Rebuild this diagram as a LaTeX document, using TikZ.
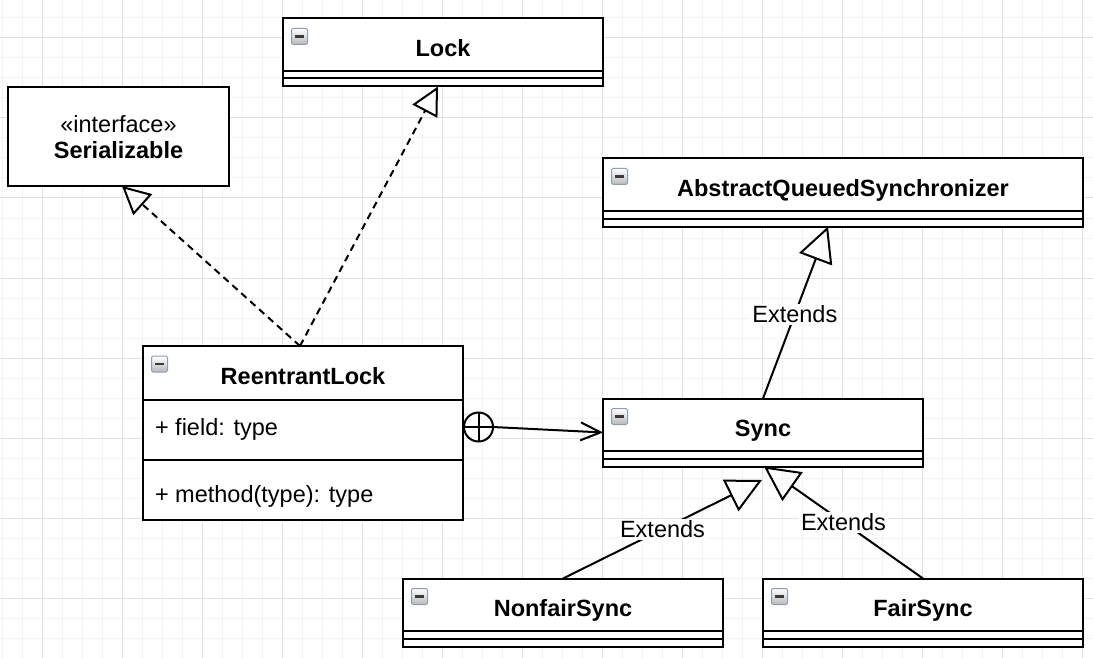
\documentclass[tikz,border=0pt]{standalone}
\usepackage{fontspec}
\setmainfont{Liberation Sans}
\usetikzlibrary{arrows.meta}
\definecolor{gridminor}{HTML}{F3F3F3}
\definecolor{gridmajor}{HTML}{E0E0E0}
\definecolor{iconborder}{HTML}{8C9DB5}
\definecolor{icondark}{HTML}{3A3A3A}
\begin{document}
\begin{tikzpicture}[x=1pt,y=-1pt,
  every node/.style={font=\fontsize{23.5}{28}\selectfont, inner sep=0pt, outer sep=0pt},
  cls/.style={draw=black, line width=2pt, fill=white, rectangle, anchor=north west, minimum height=68pt},
  title/.style={anchor=base, font=\fontsize{23.5}{28}\selectfont\bfseries},
  member/.style={anchor=base west},
  sepline/.style={line width=2pt},
  dep/.style={line width=2pt, dash pattern=on 7pt off 5pt, -{Triangle[open,length=28pt,width=28pt]}},
  ext/.style={line width=2pt, -{Triangle[open,length=35pt,width=35pt]}},
  lbl/.style={fill=white, inner sep=2pt},
  umlicon/.pic={
    \shade[top color=white, bottom color=black!28, draw=iconborder, line width=1pt, rounded corners=1.5pt] (0,0) rectangle (16,16);
    \draw[icondark, line width=2.5pt] (3.5,8) -- (12.5,8);
  }
]
\useasboundingbox (0,0) rectangle (1093,658);
% grid
\foreach \gx in {2,22,...,1092} \draw[gridminor, line width=1pt] (\gx,0) -- (\gx,658);
\foreach \gy in {18,38,...,658} \draw[gridminor, line width=1pt] (0,\gy) -- (1093,\gy);
\foreach \gx in {42,122,...,1082} \draw[gridmajor, line width=1pt] (\gx,0) -- (\gx,658);
\foreach \gy in {38,118,...,638} \draw[gridmajor, line width=1pt] (0,\gy) -- (1093,\gy);

% Lock
\node[cls, minimum width=320pt] (Lock) at (283,18.5) {};
\draw[sepline] ([yshift=-52.5pt]Lock.north west) -- ([yshift=-52.5pt]Lock.north east);
\draw[sepline] ([yshift=-60pt]Lock.north west) -- ([yshift=-60pt]Lock.north east);
\node[title] (LockT) at ([yshift=-38pt]Lock.north) {Lock};
\pic at ([shift={(8.5pt,-10pt)}]Lock.north west) {umlicon};

% Serializable
\node[cls, minimum width=221pt, minimum height=99pt] (Ser) at (8,87) {};
\node[anchor=base] (SerS) at ([yshift=-46pt]Ser.north) {«interface»};
\node[title] (SerT) at ([yshift=-72pt]Ser.north) {Serializable};

% AQS
\node[cls, minimum width=480pt] (AQS) at (603,158.5) {};
\draw[sepline] ([yshift=-52pt]AQS.north west) -- ([yshift=-52pt]AQS.north east);
\draw[sepline] ([yshift=-60pt]AQS.north west) -- ([yshift=-60pt]AQS.north east);
\node[title] (AQST) at ([yshift=-38pt]AQS.north) {AbstractQueuedSynchronizer};
\pic at ([shift={(8.5pt,-10pt)}]AQS.north west) {umlicon};

% ReentrantLock
\node[cls, minimum width=320pt, minimum height=174pt] (RL) at (143,346) {};
\draw[sepline] ([yshift=-54pt]RL.north west) -- ([yshift=-54pt]RL.north east);
\draw[sepline] ([yshift=-114pt]RL.north west) -- ([yshift=-114pt]RL.north east);
\node[title] (RLT) at ([yshift=-38pt]RL.north) {ReentrantLock};
\pic at ([shift={(8.5pt,-10pt)}]RL.north west) {umlicon};
\node[member] (RLF) at (155,435) {+ field: type};
\node[member] (RLM) at (155,502) {+ method(type): type};

% Sync
\node[cls, minimum width=320pt] (Sync) at (603,398.5) {};
\draw[sepline] ([yshift=-52pt]Sync.north west) -- ([yshift=-52pt]Sync.north east);
\draw[sepline] ([yshift=-60pt]Sync.north west) -- ([yshift=-60pt]Sync.north east);
\node[title] (SyncT) at ([yshift=-38pt]Sync.north) {Sync};
\pic at ([shift={(8.5pt,-10pt)}]Sync.north west) {umlicon};

% NonfairSync
\node[cls, minimum width=320pt] (Nonfair) at (403,578.5) {};
\draw[sepline] ([yshift=-52pt]Nonfair.north west) -- ([yshift=-52pt]Nonfair.north east);
\draw[sepline] ([yshift=-60pt]Nonfair.north west) -- ([yshift=-60pt]Nonfair.north east);
\node[title] (NonfairT) at ([yshift=-38pt]Nonfair.north) {NonfairSync};
\pic at ([shift={(8.5pt,-10pt)}]Nonfair.north west) {umlicon};

% FairSync
\node[cls, minimum width=320pt] (Fair) at (763,578.5) {};
\draw[sepline] ([yshift=-52pt]Fair.north west) -- ([yshift=-52pt]Fair.north east);
\draw[sepline] ([yshift=-60pt]Fair.north west) -- ([yshift=-60pt]Fair.north east);
\node[title] (FairT) at ([yshift=-38pt]Fair.north) {FairSync};
\pic at ([shift={(8.5pt,-10pt)}]Fair.north west) {umlicon};

% realizations
\draw[dep] ([xshift=-3pt]RL.north) -- ([xshift=114pt]Ser.south west);
\draw[dep] ([xshift=-3pt]RL.north) -- ([xshift=155pt]Lock.south west);

% generalizations
\draw[ext] (Sync.north) -- node[lbl, pos=0.49] (L1) {Extends} ([xshift=225pt]AQS.south west);
\coordinate (nfEnd) at (762,480);
\draw[ext] (Nonfair.north) -- node[lbl] (L2) {Extends} (nfEnd);
\draw[ext] (Fair.north) -- node[lbl, pos=0.5] (L3) {Extends} ([xshift=1pt]Sync.south);

% nesting
\node[circle, draw=black, line width=2pt, fill=white, minimum size=29pt] (cp) at (478.5,427) {};
\draw[line width=2pt] (cp.north) -- (cp.south);
\draw[line width=2pt] (cp.west) -- (cp.east);
\draw[line width=2pt, -{Straight Barb[length=20pt,width=18pt]}] (cp.east) -- ([yshift=-34pt]Sync.north west);
\end{tikzpicture}
\end{document}
